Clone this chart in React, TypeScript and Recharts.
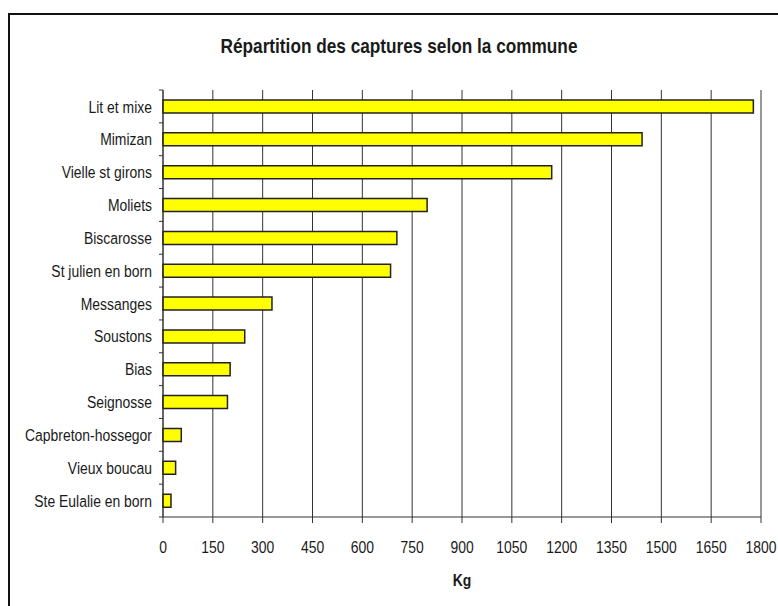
import React from 'react';
import { BarChart, Bar, XAxis, YAxis, CartesianGrid } from 'recharts';

const communes = [
  'Lit et mixe',
  'Mimizan',
  'Vielle st girons',
  'Moliets',
  'Biscarosse',
  'St julien en born',
  'Messanges',
  'Soustons',
  'Bias',
  'Seignosse',
  'Capbreton-hossegor',
  'Vieux boucau',
  'Ste Eulalie en born',
];
const captures = [1777, 1442, 1170, 795, 704, 685, 328, 246, 202, 194, 55, 38, 24];
const kgTicks = [0, 150, 300, 450, 600, 750, 900, 1050, 1200, 1350, 1500, 1650, 1800];

const FONT = '"Liberation Sans", Arial, sans-serif';
const INK = '#1a1a1a';
const NARROW = 0.82;
const Y_TICK_SIZE = 6;
const Y_TICK_MARGIN = 5;

const data = communes.map((name, i) => ({ name, kg: captures[i] }));

// Arial Narrow look-alike: squeeze Liberation Sans horizontally
const NarrowTick = (props: any) => {
  const { x, y, payload, textAnchor, vertical } = props;
  return (
    <g transform={`translate(${x},${y}) scale(${NARROW},1)`}>
      <text
        x={0}
        y={0}
        dy={vertical ? '0.36em' : '0.71em'}
        textAnchor={textAnchor}
        fill={INK}
        fontSize={17}
        fontFamily={FONT}
      >
        {payload.value}
      </text>
    </g>
  );
};

// category label + Excel-style tick marks on the band edges
const CategoryTick = (props: any) => {
  const { x, y, payload, index, visibleTicksCount } = props;
  const axisX = x + Y_TICK_SIZE + Y_TICK_MARGIN;
  const half = payload.offset || 0;
  const last = index === visibleTicksCount - 1;
  return (
    <g>
      <line x1={axisX - 4} x2={axisX} y1={y - half} y2={y - half} stroke="#333" />
      {last && <line x1={axisX - 4} x2={axisX} y1={y + half} y2={y + half} stroke="#333" />}
      <NarrowTick {...props} vertical />
    </g>
  );
};

const App: React.FC = () => {
  return (
    <div style={{ position: 'absolute', left: 0, top: 0, width: 778, height: 606, background: '#fff', overflow: 'hidden' }}>
      <div
        style={{
          position: 'absolute',
          left: 8,
          top: 13,
          width: 800,
          height: 620,
          border: '2px solid #111',
        }}
      />
      <div
        style={{
          position: 'absolute',
          left: 0,
          top: 34,
          width: 798,
          textAlign: 'center',
          fontFamily: FONT,
          fontWeight: 'bold',
          fontSize: 21,
          color: INK,
          transform: `scaleX(${NARROW})`,
        }}
      >
        Répartition des captures selon la commune
      </div>
      <div
        style={{
          position: 'absolute',
          left: 412,
          top: 571,
          width: 100,
          textAlign: 'center',
          fontFamily: FONT,
          fontWeight: 'bold',
          fontSize: 17,
          color: INK,
          transform: `scaleX(${NARROW})`,
        }}
      >
        Kg
      </div>
      <div style={{ position: 'absolute', left: 0, top: 0 }}>
        <BarChart
          width={778}
          height={606}
          data={data}
          layout="vertical"
          margin={{ top: 90, right: 17, bottom: 49, left: 13 }}
        >
          <CartesianGrid horizontal={false} stroke="#333" strokeWidth={1} xAxisId="kg" yAxisId="cat" />
          <XAxis
            xAxisId="kg"
            type="number"
            domain={[0, 1800]}
            ticks={kgTicks}
            interval={0}
            height={40}
            tickSize={6}
            tickMargin={18}
            stroke="#333"
            tick={<NarrowTick />}
          />
          <YAxis
            yAxisId="cat"
            type="category"
            dataKey="name"
            width={150}
            interval={0}
            tickLine={false}
            tickSize={Y_TICK_SIZE}
            tickMargin={Y_TICK_MARGIN}
            stroke="#333"
            tick={<CategoryTick />}
          />
          <Bar
            xAxisId="kg"
            yAxisId="cat"
            dataKey="kg"
            fill="#ffff00"
            stroke="#222"
            strokeWidth={1.5}
            barSize={13}
            isAnimationActive={false}
          />
        </BarChart>
      </div>
    </div>
  );
};

export default App;
